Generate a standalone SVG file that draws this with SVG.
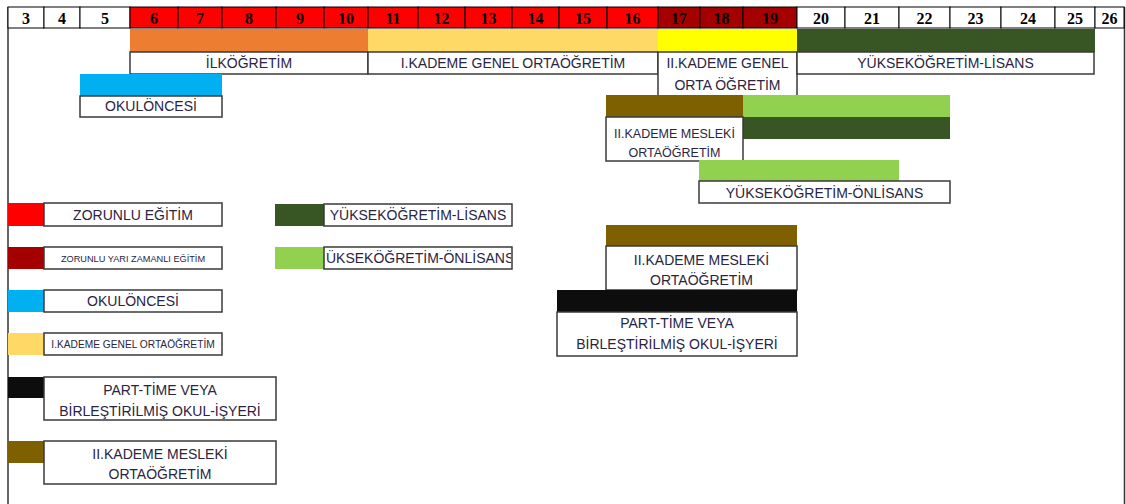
<svg xmlns="http://www.w3.org/2000/svg" width="1126" height="504" viewBox="0 0 1126 504">
<style>
.hc{stroke:#000;stroke-width:1}
.hn{font-family:"Liberation Serif",serif;font-weight:bold;font-size:16px;fill:#000;text-anchor:middle}
.lb{fill:#fff;stroke:#3a3a3a;stroke-width:1.5}
.t{font-family:"Liberation Sans",Arial,sans-serif;font-size:14px;fill:#2a2442;text-anchor:middle}
.ts{font-family:"Liberation Sans",Arial,sans-serif;font-size:12.5px;fill:#2a2442;text-anchor:middle}
.red{fill:#FF0000}.dred{fill:#A50000}.org{fill:#ED7D31}.lyel{fill:#FFD966}.yel{fill:#FFFF00}
.dgrn{fill:#375623}.lgrn{fill:#92D050}.blu{fill:#00B0F0}.brn{fill:#7F6000}.blk{fill:#0D0D0D}
</style>
<defs>
<clipPath id="clipOn"><rect x="325" y="247" width="186" height="22"/></clipPath>
</defs>
<rect x="0" y="0" width="1126" height="504" fill="#fff"/>
<g id="frame" stroke="#333" stroke-width="1.5">
<line x1="8" y1="7" x2="8" y2="504"/>
<line x1="1124.5" y1="7" x2="1124.5" y2="504"/>
</g>
<g id="header">
<rect class="hc" x="8" y="7" width="36" height="21" fill="#fff"/>
<rect class="hc" x="44" y="7" width="36" height="21" fill="#fff"/>
<rect class="hc" x="80" y="7" width="50" height="21" fill="#fff"/>
<rect class="hc red" x="130" y="7" width="48" height="21"/>
<rect class="hc red" x="178" y="7" width="44" height="21"/>
<rect class="hc red" x="222" y="7" width="54" height="21"/>
<rect class="hc red" x="276" y="7" width="48" height="21"/>
<rect class="hc red" x="324" y="7" width="44" height="21"/>
<rect class="hc red" x="368" y="7" width="50" height="21"/>
<rect class="hc red" x="418" y="7" width="47" height="21"/>
<rect class="hc red" x="465" y="7" width="47" height="21"/>
<rect class="hc red" x="512" y="7" width="47" height="21"/>
<rect class="hc red" x="559" y="7" width="48" height="21"/>
<rect class="hc red" x="607" y="7" width="51" height="21"/>
<rect class="hc dred" x="658" y="7" width="42" height="21"/>
<rect class="hc dred" x="700" y="7" width="43" height="21"/>
<rect class="hc dred" x="743" y="7" width="54" height="21"/>
<rect class="hc" x="797" y="7" width="48" height="21" fill="#fff"/>
<rect class="hc" x="845" y="7" width="54" height="21" fill="#fff"/>
<rect class="hc" x="899" y="7" width="51" height="21" fill="#fff"/>
<rect class="hc" x="950" y="7" width="51" height="21" fill="#fff"/>
<rect class="hc" x="1001" y="7" width="54" height="21" fill="#fff"/>
<rect class="hc" x="1055" y="7" width="40" height="21" fill="#fff"/>
<rect class="hc" x="1095" y="7" width="29" height="21" fill="#fff"/>
<text class="hn" x="26" y="23.5">3</text>
<text class="hn" x="62" y="23.5">4</text>
<text class="hn" x="105" y="23.5">5</text>
<text class="hn" x="154" y="23.5">6</text>
<text class="hn" x="200" y="23.5">7</text>
<text class="hn" x="249" y="23.5">8</text>
<text class="hn" x="300" y="23.5">9</text>
<text class="hn" x="346" y="23.5">10</text>
<text class="hn" x="393" y="23.5">11</text>
<text class="hn" x="441.5" y="23.5">12</text>
<text class="hn" x="488.5" y="23.5">13</text>
<text class="hn" x="535.5" y="23.5">14</text>
<text class="hn" x="583" y="23.5">15</text>
<text class="hn" x="632.5" y="23.5">16</text>
<text class="hn" x="679" y="23.5">17</text>
<text class="hn" x="721.5" y="23.5">18</text>
<text class="hn" x="770" y="23.5">19</text>
<text class="hn" x="821" y="23.5">20</text>
<text class="hn" x="872" y="23.5">21</text>
<text class="hn" x="924.5" y="23.5">22</text>
<text class="hn" x="975.5" y="23.5">23</text>
<text class="hn" x="1028" y="23.5">24</text>
<text class="hn" x="1075" y="23.5">25</text>
<text class="hn" x="1109.5" y="23.5">26</text>
</g>
<g id="ilkogretim">
<rect class="org" x="130" y="29" width="238" height="23"/>
<rect class="lb" x="130" y="52" width="238" height="22"/>
<text class="t" x="249" y="68">İLKÖĞRETİM</text>
</g>
<g id="okuloncesi">
<rect class="blu" x="80" y="74" width="142" height="22"/>
<rect class="lb" x="80" y="96" width="142" height="21"/>
<text class="t" x="151" y="111">OKULÖNCESİ</text>
</g>
<g id="kademe1-genel">
<rect class="lyel" x="368" y="29" width="290" height="23"/>
<rect class="lb" x="368" y="52" width="290" height="22"/>
<text class="t" x="513" y="68">I.KADEME GENEL ORTAÖĞRETİM</text>
</g>
<g id="kademe2-genel">
<rect class="yel" x="658" y="29" width="139" height="23"/>
<rect class="lb" x="658" y="52" width="139" height="44"/>
<text class="t" x="727.5" y="68">II.KADEME GENEL</text>
<text class="t" x="727.5" y="90">ORTA ÖĞRETİM</text>
</g>
<g id="lisans">
<rect class="dgrn" x="797" y="29" width="298" height="23"/>
<rect class="lb" x="797" y="52" width="297" height="22"/>
<text class="t" x="945.5" y="68">YÜKSEKÖĞRETİM-LİSANS</text>
</g>
<g id="mesleki-path">
<rect class="brn" x="606" y="95" width="137" height="22"/>
<rect class="lgrn" x="743" y="95" width="207" height="22"/>
<rect class="dgrn" x="743" y="117" width="207" height="22"/>
<rect class="lb" x="606" y="117" width="137" height="44"/>
<text class="ts" x="674.5" y="137.5">II.KADEME MESLEKİ</text>
<text class="ts" x="674.5" y="156.5">ORTAÖĞRETİM</text>
</g>
<g id="onlisans">
<rect class="lgrn" x="699" y="160" width="200" height="21"/>
<rect class="lb" x="699" y="181" width="251" height="22"/>
<text class="t" x="824.5" y="198">YÜKSEKÖĞRETİM-ÖNLİSANS</text>
</g>
<g id="mesleki-right">
<rect class="brn" x="606" y="225" width="191" height="21"/>
<rect class="lb" x="606" y="246" width="191" height="44"/>
<text class="t" x="701.5" y="265">II.KADEME MESLEKİ</text>
<text class="t" x="701.5" y="285">ORTAÖĞRETİM</text>
</g>
<g id="parttime-right">
<rect class="blk" x="557" y="290" width="240" height="22"/>
<rect class="lb" x="557" y="312" width="240" height="44"/>
<text class="t" x="677" y="328">PART-TİME VEYA</text>
<text class="t" x="677" y="349">BİRLEŞTİRİLMİŞ OKUL-İŞYERİ</text>
</g>
<g id="leg-zorunlu">
<rect class="red" x="8" y="203" width="36" height="23"/>
<rect class="lb" x="44" y="203" width="178" height="23"/>
<text class="t" x="133" y="219.5">ZORUNLU EĞİTİM</text>
</g>
<g id="leg-yarizamanli">
<rect class="dred" x="8" y="247" width="36" height="22"/>
<rect class="lb" x="44" y="247" width="178" height="22"/>
<text class="t" x="133" y="261.5" style="font-size:9.2px">ZORUNLU YARI ZAMANLI EĞİTİM</text>
</g>
<g id="leg-okuloncesi">
<rect class="blu" x="8" y="290" width="36" height="22"/>
<rect class="lb" x="44" y="290" width="178" height="22"/>
<text class="t" x="133" y="306">OKULÖNCESİ</text>
</g>
<g id="leg-kademe1">
<rect class="lyel" x="8" y="333" width="36" height="22"/>
<rect class="lb" x="44" y="333" width="178" height="22"/>
<text class="t" x="133" y="348" style="font-size:10.2px">I.KADEME GENEL ORTAÖĞRETİM</text>
</g>
<g id="leg-lisans">
<rect class="dgrn" x="275" y="204" width="49" height="22"/>
<rect class="lb" x="324" y="204" width="188" height="22"/>
<text class="t" x="418" y="220">YÜKSEKÖĞRETİM-LİSANS</text>
</g>
<g id="leg-onlisans">
<rect class="lgrn" x="275" y="247" width="49" height="22"/>
<rect class="lb" x="324" y="247" width="188" height="22"/>
<text class="t" x="326" y="263" style="text-anchor:start" clip-path="url(#clipOn)">ÜKSEKÖĞRETİM-ÖNLİSANS</text>
</g>
<g id="leg-parttime">
<rect class="blk" x="8" y="377" width="36" height="21"/>
<rect class="lb" x="44" y="377" width="232" height="43"/>
<text class="t" x="160" y="395">PART-TİME VEYA</text>
<text class="t" x="160" y="416">BİRLEŞTİRİLMİŞ OKUL-İŞYERİ</text>
</g>
<g id="leg-mesleki">
<rect class="brn" x="8" y="441" width="36" height="22"/>
<rect class="lb" x="44" y="441" width="232" height="43"/>
<text class="t" x="160" y="459">II.KADEME MESLEKİ</text>
<text class="t" x="160" y="479">ORTAÖĞRETİM</text>
</g>
</svg>
